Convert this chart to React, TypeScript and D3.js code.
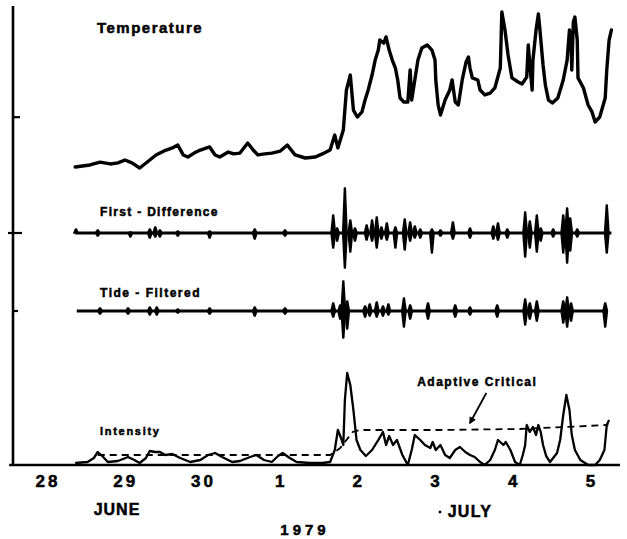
import React from "react";
import * as d3 from "d3";

// ---- Data (day numbers: June 28 = 28 ... July 1 = 31 ... July 5 = 35) ----
const dayTicks = [28, 29, 30, 31, 32, 33, 34, 35];
const dayLabels = ["28", "29", "30", "1", "2", "3", "4", "5"];

// Temperature (relative units 0..100)
const temperature: [number, number][] = [
  [28.35, 4.7], [28.54, 5.9], [28.67, 7.6], [28.8, 6.5], [28.9, 7.1], [28.99, 8.8],
  [29.08, 7.1], [29.18, 4.1], [29.31, 8.8], [29.39, 11.8], [29.44, 12.9], [29.52, 14.7],
  [29.6, 15.9], [29.67, 17.6], [29.74, 11.8], [29.8, 10.6], [29.88, 12.9], [29.96, 14.7],
  [30.08, 16.5], [30.15, 11.8], [30.21, 10.6], [30.32, 13.5], [30.39, 12.4], [30.47, 12.9],
  [30.57, 18.8], [30.64, 14.7], [30.7, 11.8], [30.79, 12.4], [30.88, 12.9], [30.99, 14.1],
  [31.08, 17.6], [31.18, 11.8], [31.31, 10.0], [31.44, 10.6], [31.53, 12.4], [31.63, 14.7],
  [31.69, 23.5], [31.73, 15.9], [31.8, 26.5], [31.84, 50.0], [31.89, 58.8], [31.93, 38.2],
  [31.98, 34.1], [32.04, 37.1], [32.08, 44.1], [32.12, 50.0], [32.17, 58.8], [32.21, 67.6],
  [32.25, 73.5], [32.27, 79.4], [32.32, 77.6], [32.35, 81.2], [32.39, 73.5], [32.43, 67.6],
  [32.47, 62.9], [32.5, 55.9], [32.53, 45.3], [32.58, 42.9], [32.63, 42.9], [32.66, 61.8],
  [32.68, 44.1], [32.72, 55.9], [32.76, 67.6], [32.81, 74.7], [32.88, 76.5], [32.94, 73.5],
  [32.98, 67.6], [32.99, 55.9], [33.02, 41.2], [33.05, 35.3], [33.11, 44.1], [33.17, 50.0],
  [33.2, 55.9], [33.24, 42.9], [33.28, 41.2], [33.33, 55.9], [33.38, 66.5], [33.41, 69.4],
  [33.43, 62.9], [33.46, 57.1], [33.53, 55.9], [33.56, 50.0], [33.62, 47.1], [33.69, 48.2],
  [33.75, 51.2], [33.82, 62.9], [33.84, 95.9], [33.88, 85.3], [33.92, 70.6], [33.97, 57.1],
  [34.05, 54.7], [34.1, 53.5], [34.16, 57.6], [34.18, 76.5], [34.2, 64.7], [34.23, 50.0],
  [34.24, 67.6], [34.28, 85.3], [34.31, 94.7], [34.33, 85.3], [34.37, 64.7], [34.4, 52.9],
  [34.44, 44.1], [34.49, 42.4], [34.56, 45.3], [34.63, 55.9], [34.68, 67.6], [34.71, 85.3],
  [34.73, 79.4], [34.74, 61.8], [34.76, 90.0], [34.78, 92.9], [34.81, 79.4], [34.82, 57.1],
  [34.89, 51.2], [34.95, 41.2], [35.0, 37.1], [35.04, 31.2], [35.1, 34.1], [35.17, 45.3],
  [35.19, 61.8], [35.22, 79.4], [35.25, 85.3],
];

// First-difference bursts: [day, up amplitude, down amplitude]
const firstDiffStart = 28.35;
const firstDiffEnd = 35.25;
const firstDifference: [number, number, number][] = [
  [28.36, 0.2, 0.0], [28.64, 0.15, 0.15], [29.06, 0.05, 0.2], [29.31, 0.2, 0.25], [29.38, 0.3, 0.2],
  [29.44, 0.15, 0.2], [29.67, 0.1, 0.15], [30.08, 0.1, 0.25], [30.66, 0.2, 0.3],
  [31.05, 0.15, 0.15], [31.67, 0.9, 0.75], [31.72, 0.25, 0.4], [31.82, 2.25, 1.75],
  [31.89, 0.65, 0.95], [31.95, 0.25, 0.4], [32.1, 0.4, 0.35], [32.17, 0.65, 0.4],
  [32.23, 0.8, 0.75], [32.29, 0.3, 0.3], [32.36, 0.5, 0.35], [32.47, 0.3, 0.75],
  [32.59, 0.7, 0.85], [32.66, 0.55, 0.4], [32.72, 0.35, 0.25], [32.79, 0.2, 0.25],
  [32.94, 0.2, 1.0], [33.05, 0.15, 0.15], [33.21, 0.55, 0.3], [33.43, 0.25, 0.25],
  [33.73, 0.35, 0.3], [33.79, 0.5, 0.35], [33.91, 0.2, 0.25], [34.14, 1.05, 1.2],
  [34.2, 0.6, 0.75], [34.29, 0.9, 0.95], [34.34, 0.25, 0.4], [34.5, 0.2, 0.2],
  [34.63, 0.9, 1.0], [34.68, 1.25, 1.5], [34.72, 0.75, 0.9], [34.81, 0.2, 0.2],
  [35.19, 1.4, 1.0],
];

// Tide-filtered bursts: [day, up amplitude, down amplitude]
const tideStart = 28.37;
const tideEnd = 35.18;
const tideFiltered: [number, number, number][] = [
  [28.67, 0.15, 0.15], [29.03, 0.15, 0.15], [29.31, 0.2, 0.2], [29.4, 0.2, 0.2],
  [29.67, 0.1, 0.1], [30.08, 0.15, 0.15], [30.66, 0.2, 0.25], [31.05, 0.15, 0.15],
  [31.67, 0.4, 0.3], [31.76, 0.3, 0.4], [31.8, 1.5, 1.35], [31.85, 0.5, 0.9],
  [32.08, 0.25, 0.3], [32.14, 0.35, 0.25], [32.23, 0.45, 0.3], [32.31, 0.25, 0.25],
  [32.38, 0.35, 0.2], [32.58, 0.65, 0.8], [32.66, 0.3, 0.4], [32.89, 0.4, 0.4],
  [33.24, 0.3, 0.3], [33.43, 0.2, 0.2], [33.78, 0.3, 0.3], [34.14, 0.6, 0.7],
  [34.2, 0.4, 0.4], [34.29, 0.5, 0.5], [34.63, 0.5, 0.6], [34.68, 0.7, 0.8],
  [34.73, 0.4, 0.5], [35.17, 0.4, 0.8],
];

// Intensity (relative units 0..100)
const intensity: [number, number][] = [
  [28.35, 2], [28.51, 3], [28.59, 7], [28.64, 13], [28.71, 8], [28.77, 3], [28.9, 4],
  [29.03, 8], [29.11, 5], [29.18, 2], [29.26, 7], [29.31, 14], [29.38, 13], [29.44, 13],
  [29.51, 10], [29.6, 11], [29.7, 7], [29.83, 3], [29.96, 5], [30.06, 10], [30.15, 12],
  [30.24, 8], [30.37, 3], [30.47, 4], [30.6, 8], [30.68, 10], [30.78, 5], [30.88, 3],
  [30.96, 9], [31.02, 12], [31.11, 7], [31.2, 3], [31.37, 2], [31.53, 2], [31.63, 3],
  [31.69, 15], [31.73, 35], [31.77, 27], [31.8, 20], [31.82, 65], [31.85, 92], [31.89, 80],
  [31.93, 55], [31.97, 25], [32.02, 15], [32.09, 9], [32.17, 15], [32.25, 25], [32.31, 33],
  [32.35, 20], [32.39, 29], [32.44, 20], [32.49, 25], [32.56, 10], [32.63, 0], [32.68, 15],
  [32.72, 30], [32.79, 25], [32.85, 20], [32.92, 17], [32.95, 23], [32.99, 15], [33.05, 20],
  [33.11, 10], [33.17, 7], [33.24, 15], [33.3, 18], [33.37, 13], [33.43, 10], [33.49, 8],
  [33.56, 3], [33.62, 0], [33.69, 5], [33.75, 15], [33.79, 25], [33.86, 20], [33.89, 23],
  [33.95, 15], [34.01, 3], [34.07, 0], [34.11, 10], [34.14, 20], [34.16, 40], [34.2, 33],
  [34.24, 38], [34.28, 30], [34.31, 40], [34.34, 33], [34.37, 20], [34.41, 9], [34.46, 3],
  [34.5, 7], [34.55, 12], [34.59, 25], [34.63, 50], [34.67, 70], [34.71, 55], [34.74, 30],
  [34.78, 15], [34.85, 5], [34.95, 0], [35.04, 0], [35.1, 5], [35.16, 15], [35.19, 40],
  [35.22, 45],
];

// Adaptive critical level (same units as intensity)
const adaptiveCritical: [number, number][] = [
  [28.64, 10], [31.63, 10], [31.76, 17], [31.92, 33], [32.02, 35], [33.05, 35],
  [34.07, 36], [35.21, 40],
];

const axisStartDay = 27.5;
const axisEndDay = 35.36;
const tempTickValue = 34;

// ---- Layout ----
const W = 627;
const H = 539;

const x = d3.scaleLinear().domain([28, 35]).range([48, 592]);
const yTemp = d3.scaleLinear().domain([0, 100]).range([175, 5]);
const yDiff = d3.scaleLinear().domain([-1.5, 1.5]).range([263, 203]);
const yTide = d3.scaleLinear().domain([-1.5, 1.5]).range([341, 281]);
const yInt = d3.scaleLinear().domain([0, 100]).range([465, 365]);

const HW = 0.028; // burst half-width in days
const TIP = 0.005;

function burstPolys(bursts: [number, number, number][]): [number, number][][] {
  return bursts.map(([d, up, dn]) => [
    [d - HW, 0], [d - TIP, up], [d + TIP, up], [d + HW, 0], [d + TIP, -dn], [d - TIP, -dn],
  ]);
}

const FONT = "'Liberation Sans', Arial, Helvetica, sans-serif";

export default function App() {
  const lineT = d3.line<[number, number]>().x((d) => x(d[0])).y((d) => yTemp(d[1]));
  const lineD = d3.line<[number, number]>().x((d) => x(d[0])).y((d) => yDiff(d[1]));
  const lineF = d3.line<[number, number]>().x((d) => x(d[0])).y((d) => yTide(d[1]));
  const lineI = d3.line<[number, number]>().x((d) => x(d[0])).y((d) => yInt(d[1]));

  const axisY = yInt(0);
  const axisX = 13;

  const arrowFrom: [number, number] = [33.64, 72];
  const arrowTo: [number, number] = [33.43, 42];

  return (
    <svg
      width={W}
      height={H}
      viewBox={`0 0 ${W} ${H}`}
      style={{ position: "absolute", left: 0, top: 0, background: "#fff" }}
    >
      <defs>
        <marker id="ah" viewBox="0 0 10 10" refX="8" refY="5" markerWidth="4" markerHeight="4" orient="auto">
          <path d="M0,0 L10,5 L0,10 z" fill="#000" />
        </marker>
      </defs>
      <rect x={0} y={0} width={W} height={H} fill="#fff" />

      {/* axes */}
      <line x1={axisX} y1={6} x2={axisX} y2={axisY + 1} stroke="#000" strokeWidth={2.6} />
      <line x1={x(axisStartDay)} y1={axisY} x2={x(axisEndDay)} y2={axisY} stroke="#000" strokeWidth={2.6} />
      <line x1={axisX} y1={yTemp(tempTickValue)} x2={axisX + 7} y2={yTemp(tempTickValue)} stroke="#000" strokeWidth={2.2} />
      <line x1={axisX - 5} y1={yDiff(0)} x2={axisX + 9} y2={yDiff(0)} stroke="#000" strokeWidth={2.2} />
      <line x1={axisX} y1={yTide(0)} x2={axisX + 5} y2={yTide(0)} stroke="#000" strokeWidth={2.2} />

      {/* temperature */}
      <path d={lineT(temperature) || ""} fill="none" stroke="#000" strokeWidth={3.4} strokeLinejoin="round" strokeLinecap="round" />

      {/* first difference */}
      <path d={lineD([[firstDiffStart, 0], [firstDiffEnd, 0]]) || ""} stroke="#000" strokeWidth={3} />
      {burstPolys(firstDifference).map((p, i) => (
        <path key={"fd" + i} d={(lineD(p) || "") + "Z"} fill="#000" stroke="#000" strokeWidth={1.6} strokeLinejoin="round" />
      ))}

      {/* tide filtered */}
      <path d={lineF([[tideStart, 0], [tideEnd, 0]]) || ""} stroke="#000" strokeWidth={3} />
      {burstPolys(tideFiltered).map((p, i) => (
        <path key={"tf" + i} d={(lineF(p) || "") + "Z"} fill="#000" stroke="#000" strokeWidth={1.6} strokeLinejoin="round" />
      ))}

      {/* intensity + adaptive critical */}
      <path d={lineI(adaptiveCritical) || ""} fill="none" stroke="#000" strokeWidth={1.8} strokeDasharray="7 5" />
      <path d={lineI(intensity) || ""} fill="none" stroke="#000" strokeWidth={2.3} strokeLinejoin="round" />

      {/* annotation arrow */}
      <line
        x1={x(arrowFrom[0])}
        y1={yInt(arrowFrom[1])}
        x2={x(arrowTo[0])}
        y2={yInt(arrowTo[1])}
        stroke="#000"
        strokeWidth={1.8}
        markerEnd="url(#ah)"
      />

      {/* labels */}
      <g fontFamily={FONT} fontWeight="bold" fill="#000" stroke="#000" strokeWidth={0.5}>
        <text x={x(28.63)} y={yTemp(83.5)} fontSize={15} letterSpacing={1.5}>Temperature</text>
        <text x={x(28.67)} y={yDiff(0.85)} fontSize={12} letterSpacing={1.3}>First - Difference</text>
        <text x={x(28.67)} y={yTide(0.7)} fontSize={12} letterSpacing={1.5}>Tide - Filtered</text>
        <text x={x(28.67)} y={yInt(30)} fontSize={11} letterSpacing={1.7}>Intensity</text>
        <text x={x(32.75)} y={yInt(79)} fontSize={12} letterSpacing={1.5}>Adaptive Critical</text>

        {dayTicks.map((d, i) => (
          <text key={d} x={x(d)} y={487} fontSize={17} letterSpacing={3} textAnchor="middle">
            {dayLabels[i]}
          </text>
        ))}
        <text x={117} y={515} fontSize={16} letterSpacing={1} textAnchor="middle">JUNE</text>
        <text x={470} y={517} fontSize={16} letterSpacing={1.3} textAnchor="middle">JULY</text>
        <circle cx={440} cy={512} r={1.2} fill="#000" />
        <text x={305} y={535} fontSize={15} letterSpacing={4} textAnchor="middle">1979</text>
      </g>
    </svg>
  );
}
